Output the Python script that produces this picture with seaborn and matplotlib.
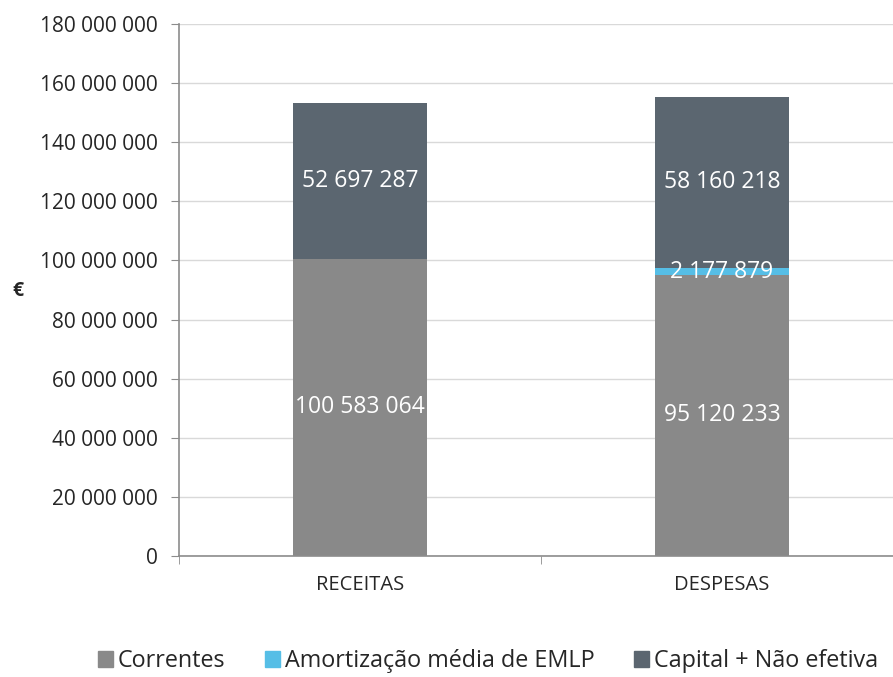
import numpy as np
import pandas as pd
import matplotlib.pyplot as plt
import seaborn as sns
from matplotlib.patches import Patch
from matplotlib.ticker import FuncFormatter, FixedLocator

categories = ["RECEITAS", "DESPESAS"]
correntes = [100583064, 95120233]
amortizacao = [0, 2177879]
capital = [52697287, 58160218]
series_names = ["Correntes", "Amortização média de EMLP", "Capital + Não efetiva"]
colors = ["#898989", "#56BEE6", "#5B6670"]

df = pd.DataFrame({
    "categoria": categories,
    "correntes": correntes,
    "amortizacao": amortizacao,
    "capital": capital,
})
df["c1"] = df["correntes"]
df["c2"] = df["c1"] + df["amortizacao"]
df["c3"] = df["c2"] + df["capital"]

sns.set_style("white")
plt.rcParams["font.family"] = ["Open Sans", "DejaVu Sans"]

fig = plt.figure(figsize=(8.93, 6.77), dpi=100)
ax = fig.add_axes([179 / 893, 1 - 556 / 677, (903 - 179) / 893, (556 - 24) / 677])

# stacked bars: draw cumulative totals from the top down
for col, color in zip(["c3", "c2", "c1"], colors[::-1]):
    sns.barplot(data=df, x="categoria", y=col, color=color, width=0.37,
                saturation=1, ax=ax, linewidth=0)

# segment labels
for i in range(len(categories)):
    segs = [(0, df["c1"][i], correntes[i]),
            (df["c1"][i], df["c2"][i], amortizacao[i]),
            (df["c2"][i], df["c3"][i], capital[i])]
    for lo, hi, val in segs:
        if val <= 0:
            continue
        ax.text(i, (lo + hi) / 2, f"{val:,}".replace(",", " "), ha="center",
                va="center", color="white", fontsize=16.5)

ax.set_ylim(0, 180000000)
ax.set_xlim(-0.5, 1.5)
ax.yaxis.set_major_locator(FixedLocator(np.arange(0, 180000001, 20000000)))
ax.yaxis.set_major_formatter(FuncFormatter(lambda v, p: f"{int(v):,}".replace(",", " ")))
ax.grid(axis="y", color="#d9d9d9", linewidth=1)
ax.set_axisbelow(True)

for s in ["top", "right"]:
    ax.spines[s].set_visible(False)
for s in ["left", "bottom"]:
    ax.spines[s].set_color("#8c8c8c")
    ax.spines[s].set_linewidth(1.2)

ax.tick_params(axis="y", labelsize=15, length=6, color="#8c8c8c", direction="out",
               left=True, pad=9, labelcolor="#262626")
ax.tick_params(axis="x", labelsize=14.5, length=0, pad=14, labelcolor="#262626")
ax.set_xticks([-0.5, 0.5, 1.5], minor=True)
ax.tick_params(axis="x", which="minor", length=6, color="#8c8c8c", bottom=True)

ax.set_xlabel("")
ax.set_ylabel("€", rotation=0, fontsize=14, fontweight="bold", va="center")
ax.yaxis.set_label_coords(-0.223, 0.498)

handles = [Patch(color=c) for c in colors]
fig.legend(handles, series_names, loc="lower left", bbox_to_anchor=(0.086, -0.025),
           ncol=3, frameon=False, fontsize=16.8, handlelength=0.65, handleheight=0.65,
           handletextpad=0.2, columnspacing=1.7)

fig.savefig("out.png", dpi=100)
